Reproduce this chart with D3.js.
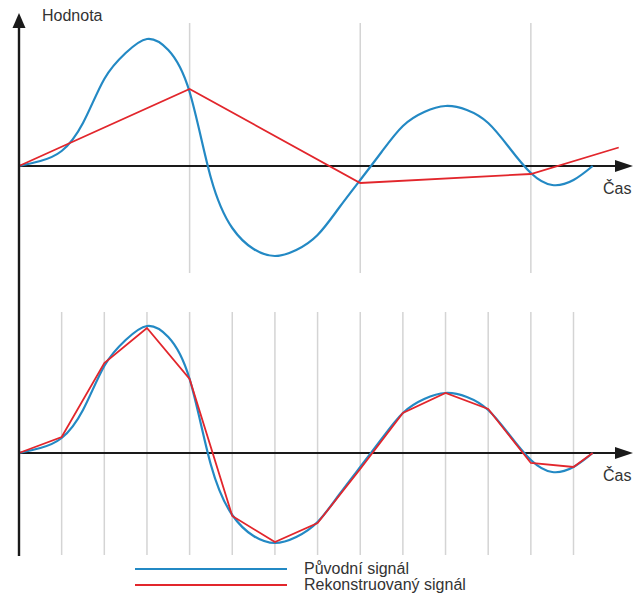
<!DOCTYPE html>
<html>
<head>
<meta charset="utf-8">
<script src="https://cdn.jsdelivr.net/npm/d3@7"></script>
<style>
  body { margin: 0; background: #fff; }
  text { font-family: "Liberation Sans", Arial, sans-serif; fill: #333; }
</style>
</head>
<body>
<div id="chart"></div>
<script>
// original signal: [time in sample steps, value]
const signalPoints = [
  [0, 0], [0.5, 5], [1, 15], [1.5, 43], [2, 87], [2.5, 113], [3, 127],
  [3.5, 116], [4, 74], [4.5, -12], [5, -62], [5.5, -83], [6, -90], [6.5, -84],
  [7, -69], [7.5, -42], [8, -14], [8.5, 14], [9, 40], [9.5, 54], [10, 60],
  [10.5, 56], [11, 43], [11.5, 18], [12, -7], [12.5, -19], [13, -14], [13.45, 0]
];

// reconstructed signal, sparse sampling (top)
const sparseSamples = [[0, 0], [4, 77], [8, -17], [12, -8], [14.06, 18.5]];
// reconstructed signal, dense sampling (bottom)
const denseSamples = [
  [0, 0], [1, 16], [2, 90], [3, 125], [4, 74], [5, -63], [6, -89], [7, -70],
  [8, -16], [9, 40], [10, 60], [11, 44], [12, -10], [13, -14], [13.45, 0]
];

const sparseTimes = [4, 8, 12];
const denseTimes = [1, 2, 3, 4, 5, 6, 7, 8, 9, 10, 11, 12, 13];

const yLabel = 'Hodnota';
const xLabel = 'Čas';
const legendLabels = ['Původní signál', 'Rekonstruovaný signál'];

(function () {
  let width = 634;
  let height = 594;
  let blue = '#2389c4';
  let red = '#e2262c';

  let svg = d3.select('#chart')
    .append('svg')
    .attr('width', width)
    .attr('height', height);

  let x = d3.scaleLinear().domain([0, 13]).range([19, 573.5]);
  let yTop = d3.scaleLinear().domain([-100, 100]).range([266, 66]);
  let yBottom = d3.scaleLinear().domain([-100, 100]).range([553, 353]);

  function drawPanel(y, times, samples, gridTop, gridBottom) {
    let g = svg.append('g');

    // light vertical sampling lines
    g.selectAll('.grid')
      .data(times)
      .enter()
      .append('line')
      .attr('x1', d => x(d))
      .attr('x2', d => x(d))
      .attr('y1', gridTop)
      .attr('y2', gridBottom)
      .style('stroke', '#d4d4d4')
      .style('stroke-width', 1.5);

    // time axis with arrow
    g.append('line')
      .attr('x1', x(0))
      .attr('x2', 618)
      .attr('y1', y(0))
      .attr('y2', y(0))
      .style('stroke', '#1a1a1a')
      .style('stroke-width', 1.8);

    g.append('path')
      .attr('d', 'M' + 633 + ',' + y(0) + 'L' + 615 + ',' + (y(0) - 6) + 'L' + 615 + ',' + (y(0) + 6) + 'Z')
      .style('fill', '#1a1a1a');

    g.append('text')
      .attr('x', 603)
      .attr('y', y(0) + 28)
      .style('font-size', '16px')
      .text(xLabel);

    let signal = d3.line()
      .x(d => x(d[0]))
      .y(d => y(d[1]))
      .curve(d3.curveNatural);

    g.append('path')
      .attr('d', signal(signalPoints))
      .style('fill', 'none')
      .style('stroke', blue)
      .style('stroke-width', 2.2);

    let poly = d3.line()
      .x(d => x(d[0]))
      .y(d => y(d[1]));

    g.append('path')
      .attr('d', poly(samples))
      .style('fill', 'none')
      .style('stroke', red)
      .style('stroke-width', 1.8);
  }

  drawPanel(yTop, sparseTimes, sparseSamples, 23, 273);
  drawPanel(yBottom, denseTimes, denseSamples, 312, 555);

  // value axis through both panels
  svg.append('line')
    .attr('x1', x(0))
    .attr('x2', x(0))
    .attr('y1', 24)
    .attr('y2', 556)
    .style('stroke', '#1a1a1a')
    .style('stroke-width', 2.4);

  svg.append('path')
    .attr('d', 'M' + x(0) + ',13L' + (x(0) - 6.5) + ',28L' + (x(0) + 6.5) + ',28Z')
    .style('fill', '#1a1a1a');

  svg.append('text')
    .attr('x', 42)
    .attr('y', 21)
    .style('font-size', '16px')
    .text(yLabel);

  // legend
  let legend = svg.append('g');
  legend.selectAll('line')
    .data(legendLabels)
    .enter()
    .append('line')
    .attr('x1', 135)
    .attr('x2', 287)
    .attr('y1', (d, i) => 569 + i * 16)
    .attr('y2', (d, i) => 569 + i * 16)
    .style('stroke', (d, i) => i === 0 ? blue : red)
    .style('stroke-width', 1.8);

  legend.selectAll('text')
    .data(legendLabels)
    .enter()
    .append('text')
    .attr('x', 304)
    .attr('y', (d, i) => 574 + i * 16)
    .style('font-size', '16px')
    .text(d => d);
})();
</script>
</body>
</html>
